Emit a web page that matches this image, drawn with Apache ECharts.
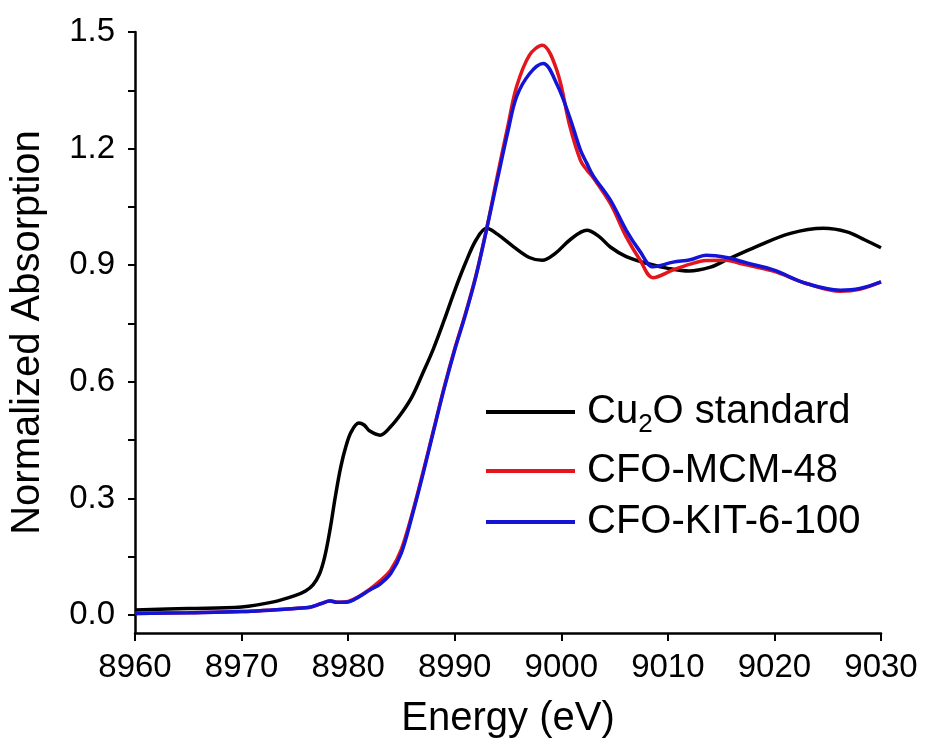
<!DOCTYPE html>
<html>
<head>
<meta charset="utf-8">
<script src="https://cdn.jsdelivr.net/npm/echarts@6/dist/echarts.min.js"></script>
<style>
  html, body { margin: 0; padding: 0; background: #fff; }
  #chart { width: 925px; height: 744px; }
</style>
</head>
<body>
<div id="chart"></div>
<script>
// x ticks (eV)
const xTicks = [8960, 8970, 8980, 8990, 9000, 9010, 9020, 9030]
// y ticks: labels every 0.3, tick marks every 0.15
const yLabels = [0, 0.3, 0.6, 0.9, 1.2, 1.5]
const yMarks = [0, 0.15, 0.3, 0.45, 0.6, 0.75, 0.9, 1.05, 1.2, 1.35, 1.5]

// Cu2O standard
const cu2oE = [8960, 8965, 8970, 8973, 8975, 8976, 8976.7, 8977.3, 8977.8, 8978.3, 8978.8, 8979.3, 8979.8, 8980.3, 8981, 8981.5, 8982, 8983, 8984, 8985, 8986, 8987, 8988, 8989, 8990, 8991, 8992, 8993, 8994, 8995.5, 8997, 8998.2, 8999.5, 9000.8, 9002.4, 9003.5, 9004.6, 9006.1, 9008, 9010, 9012, 9014, 9015.2, 9018.3, 9021.5, 9024.6, 9026.8, 9028.5, 9030]
const cu2oY = [0.013, 0.017, 0.021, 0.034, 0.05, 0.062, 0.078, 0.105, 0.15, 0.22, 0.305, 0.38, 0.435, 0.472, 0.494, 0.489, 0.474, 0.463, 0.485, 0.519, 0.562, 0.622, 0.685, 0.758, 0.835, 0.905, 0.965, 0.995, 0.98, 0.948, 0.92, 0.913, 0.932, 0.965, 0.99, 0.975, 0.947, 0.922, 0.905, 0.892, 0.885, 0.895, 0.91, 0.948, 0.982, 0.995, 0.986, 0.965, 0.945]

// CFO-MCM-48
const mcmE = [8960, 8965, 8970, 8975, 8976.5, 8977.5, 8978.3, 8979, 8980, 8981, 8982, 8983, 8984, 8985, 8986, 8987, 8988, 8989, 8990, 8991, 8992, 8993, 8994, 8995, 8995.8, 8997, 8998.2, 8999.6, 9000.8, 9001.8, 9002.4, 9003, 9004.6, 9006.1, 9007.4, 9008.6, 9010.5, 9012.1, 9013.6, 9015.5, 9016.7, 9019.9, 9023, 9026.2, 9028, 9030]
const mcmY = [0.004, 0.006, 0.009, 0.017, 0.021, 0.03, 0.037, 0.033, 0.035, 0.048, 0.066, 0.088, 0.116, 0.17, 0.26, 0.365, 0.475, 0.585, 0.685, 0.775, 0.875, 0.995, 1.13, 1.26, 1.359, 1.44, 1.466, 1.4, 1.258, 1.17, 1.145, 1.125, 1.059, 0.973, 0.913, 0.868, 0.888, 0.903, 0.912, 0.913, 0.905, 0.885, 0.853, 0.833, 0.838, 0.857]

// CFO-KIT-6-100
const kitE = [8960, 8965, 8970, 8975, 8976.5, 8977.5, 8978.3, 8979, 8980, 8981, 8982, 8983, 8984, 8985, 8986, 8987, 8988, 8989, 8990, 8991, 8992, 8993, 8994, 8995, 8995.8, 8997, 8998.3, 8999.6, 9000.8, 9001.8, 9002.4, 9003, 9004.6, 9006.1, 9007.4, 9008.6, 9010.5, 9012.1, 9013.6, 9015.5, 9017.5, 9019.9, 9023, 9026.2, 9028, 9030]
const kitY = [0.004, 0.006, 0.009, 0.017, 0.021, 0.03, 0.036, 0.033, 0.034, 0.047, 0.064, 0.08, 0.107, 0.16, 0.255, 0.36, 0.472, 0.582, 0.682, 0.772, 0.872, 0.993, 1.12, 1.245, 1.333, 1.392, 1.419, 1.365, 1.28, 1.196, 1.162, 1.13, 1.068, 0.99, 0.935, 0.896, 0.908, 0.914, 0.926, 0.92, 0.905, 0.888, 0.853, 0.836, 0.84, 0.857]

const pairs = (xs, ys) => xs.map((x, i) => [x, ys[i]])

const font = 'Liberation Sans, Arial, sans-serif'
const chart = echarts.init(document.getElementById('chart'))

const legendBase = {
  orient: 'vertical',
  left: 481,
  icon: 'rect',
  itemWidth: 89,
  itemHeight: 4,
  textStyle: {
    color: '#000',
    fontFamily: font,
    fontSize: 40,
    lineHeight: 44,
    padding: [0, 0, 0, 7]
  }
}

const option = {
  animation: false,
  backgroundColor: '#fff',
  grid: {
    left: 135,
    right: 44,
    top: 32,
    bottom: 111
  },
  legend: [
    Object.assign({}, legendBase, {
      top: 381,
      data: ['Cu2O standard'],
      formatter: () => '{a|Cu}{s|2}{a|O standard}',
      textStyle: Object.assign({}, legendBase.textStyle, {
        rich: {
          a: { fontFamily: font, fontSize: 40, lineHeight: 44, color: '#000' },
          s: { fontFamily: font, fontSize: 26, lineHeight: 44, color: '#000', padding: [26, 0, 0, 0] }
        }
      })
    }),
    Object.assign({}, legendBase, { top: 444, data: ['CFO-MCM-48'] }),
    Object.assign({}, legendBase, { top: 495, data: ['CFO-KIT-6-100'] })
  ],
  xAxis: {
    type: 'value',
    min: 8960,
    max: 9030,
    interval: 10,
    name: 'Energy (eV)',
    nameLocation: 'middle',
    nameGap: 66,
    nameTextStyle: { color: '#000', fontFamily: font, fontSize: 40 },
    axisLine: { onZero: false, lineStyle: { color: '#000', width: 2.5 } },
    axisTick: { show: true, inside: false, length: 8, lineStyle: { color: '#000', width: 2 } },
    axisLabel: {
      color: '#000',
      fontFamily: font,
      fontSize: 33,
      margin: 18,
      formatter: v => xTicks.indexOf(v) >= 0 ? String(v) : ''
    },
    splitLine: { show: false }
  },
  yAxis: {
    type: 'value',
    min: -0.046,
    max: 1.5,
    name: 'Normalized Absorption',
    nameLocation: 'middle',
    nameGap: 87,
    nameTextStyle: { color: '#000', fontFamily: font, fontSize: 40 },
    axisLine: { show: true, onZero: false, lineStyle: { color: '#000', width: 2.5 } },
    axisTick: { show: true, inside: false, length: 7, customValues: yMarks, lineStyle: { color: '#000', width: 2 } },
    axisLabel: {
      color: '#000',
      fontFamily: font,
      fontSize: 33,
      margin: 20,
      customValues: yLabels,
      formatter: v => v.toFixed(1)
    },
    splitLine: { show: false }
  },
  series: [
    {
      name: 'Cu2O standard',
      type: 'line',
      data: pairs(cu2oE, cu2oY),
      showSymbol: false,
      smooth: 0.35,
      color: '#000000',
      lineStyle: { color: '#000000', width: 3.5 }
    },
    {
      name: 'CFO-MCM-48',
      type: 'line',
      data: pairs(mcmE, mcmY),
      showSymbol: false,
      smooth: 0.35,
      color: '#e3161d',
      lineStyle: { color: '#e3161d', width: 3.5 }
    },
    {
      name: 'CFO-KIT-6-100',
      type: 'line',
      data: pairs(kitE, kitY),
      showSymbol: false,
      smooth: 0.35,
      color: '#1414d6',
      lineStyle: { color: '#1414d6', width: 3.5 }
    }
  ]
}

chart.setOption(option)
</script>
</body>
</html>
